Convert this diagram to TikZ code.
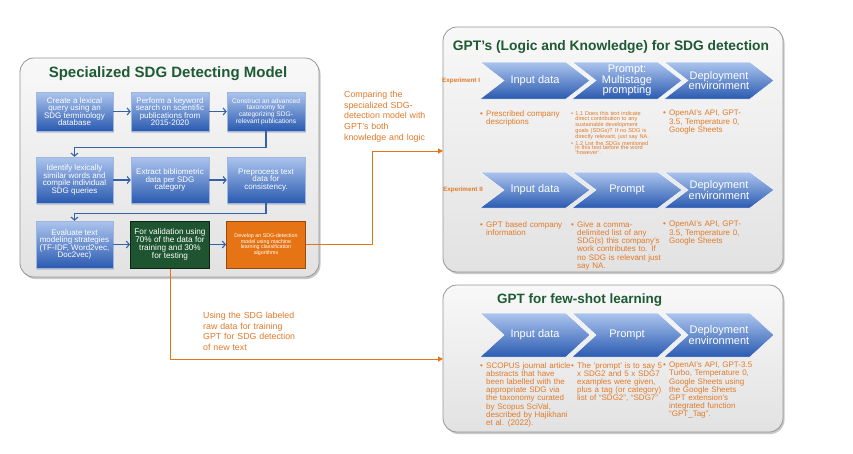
\documentclass[tikz,border=0pt]{standalone}
\usepackage{fontspec}
\setmainfont{Liberation Sans}
\usetikzlibrary{shadows,arrows.meta}
\definecolor{tgreen}{RGB}{30,90,52}
\definecolor{torange}{RGB}{230,116,20}
\definecolor{otext}{RGB}{226,122,40}
\definecolor{bluetop}{RGB}{172,197,238}
\definecolor{bluebot}{RGB}{42,90,176}
\definecolor{conncol}{RGB}{52,98,170}
\definecolor{pantop}{RGB}{248,248,248}
\definecolor{panbot}{RGB}{226,226,226}
\definecolor{panborder}{RGB}{150,150,150}
\definecolor{dgreen}{RGB}{30,84,48}
\newcommand\fs[2]{\fontsize{#1}{#2}\selectfont}
\newcommand\bul[1]{\hangindent=0.75em\hangafter=1\noindent\makebox[0.75em][l]{\textbullet}#1\par}
\newcommand\chevshape[3]{%
  \path[chev] (#1,#2) -- ({#1+86},#2) -- ({#1+110},{(#2+#3)/2}) -- ({#1+86},#3) -- (#1,#3) -- ({#1+24},{(#2+#3)/2}) -- cycle;}
\begin{document}
\begin{tikzpicture}[x=1pt,y=-1pt,
  panel/.style={draw=panborder, line width=0.8pt, rounded corners=14pt, top color=pantop, bottom color=panbot,
    drop shadow={shadow xshift=1.5pt, shadow yshift=-2pt, opacity=0.3, fill=black!70}},
  bbox/.style={rectangle, draw=white!55!bluebot, line width=0.4pt, top color=bluetop, bottom color=bluebot,
    text=white, align=center, inner sep=1pt, font=\fs{8}{7.5},
    drop shadow={shadow xshift=1pt, shadow yshift=-1.5pt, opacity=0.3}},
  conn/.style={draw=conncol, line width=1.1pt, -{Straight Barb[length=3pt,width=7pt]}},
  oconn/.style={draw=torange, line width=1pt, -{Triangle[length=5pt,width=5pt]}},
  otxt/.style={text=otext, align=left, anchor=north west, inner sep=0pt},
  chev/.style={top color=bluetop, bottom color=bluebot, draw=white, line width=0.5pt},
  ctext/.style={text=white, align=center, font=\fs{11}{10.7}, inner sep=0pt},
  exlab/.style={text=otext, font=\bfseries\fs{6.3}{7}, anchor=west, inner sep=0pt},
  ttl/.style={text=tgreen, font=\bfseries, inner sep=0pt}
]
\fill[white] (0,0) rectangle (853,453);
\useasboundingbox (0,0) rectangle (853,453);

% ---------- left panel ----------
\path[panel] (20,58) rectangle (319,277);
\node[ttl, font=\bfseries\fs{15}{16}, anchor=base] (lt) at (168,77) {Specialized SDG Detecting Model};

\node[bbox, minimum width=77pt, minimum height=39pt] (b11) at (74.5,111.5) {Create a lexical\\query using an\\SDG terminology\\database};
\node[bbox, minimum width=78pt, minimum height=39pt] (b12) at (170,111.5) {Perform a keyword\\search on scientific\\publications from\\2015-2020};
\node[bbox, minimum width=78pt, minimum height=39pt, font=\fs{6.6}{6}] (b13) at (266,111.5) {Construct an advanced\\taxonomy for\\categorizing SDG-\\relevant publications};

\node[bbox, minimum width=77pt, minimum height=46pt] (b21) at (74.5,180) {Identify lexically\\similar words and\\compile individual\\SDG queries};
\node[bbox, minimum width=78pt, minimum height=46pt] (b22) at (170,180) {Extract bibliometric\\data per SDG\\category};
\node[bbox, minimum width=78pt, minimum height=46pt] (b23) at (266,180) {Preprocess text\\data for\\consistency.};

\node[bbox, minimum width=77pt, minimum height=47pt] (b31) at (74.5,244.5) {Evaluate text\\modeling strategies\\(TF-IDF, Word2vec,\\Doc2vec)};
\node[rectangle, draw=black!60!dgreen, line width=1pt, fill=dgreen, text=white, align=center, font=\fs{8.2}{7.9},
  minimum width=79pt, minimum height=47pt, inner sep=1pt] (b32) at (170,244.5) {For validation using\\70\% of the data for\\training and 30\%\\for testing};
\node[rectangle, draw=black!35!torange, line width=1pt, fill=torange, text=white, align=center, font=\fs{5.3}{5.6},
  minimum width=79pt, minimum height=47pt, inner sep=1pt] (b33) at (266,244.5) {Develop an SDG-detection\\model using machine\\learning classification\\algorithms};

\draw[conn] (b11) -- (b12);
\draw[conn] (b12) -- (b13);
\draw[conn] (b21) -- (b22);
\draw[conn] (b22) -- (b23);
\draw[conn] (b31) -- (b32);
\draw[conn] (b32) -- (b33);
\draw[conn] (b13.south) -- ++(0,16) -| (b21.north);
\draw[conn] (b23.south) -- ++(0,10) -| (b31.north);

% ---------- right panels ----------
\path[panel] (443,27) rectangle (783,272);
\path[panel] (443,285) rectangle (783,432);
\coordinate (p1in) at (443,151);
\coordinate (p2in) at (443,359);

\node[ttl, font=\bfseries\fs{13.8}{15}, anchor=base] (rt1) at (611,50) {GPT's (Logic and Knowledge) for SDG detection};
\node[ttl, font=\bfseries\fs{13.5}{15}, anchor=base west] (rt2) at (497,303) {GPT for few-shot learning};

% experiment I
\chevshape{480}{62}{99}
\chevshape{572}{62}{99}
\chevshape{664}{62}{99}
\node[ctext] (c11) at (535,80.5) {Input data};
\node[ctext] (c12) at (627,80.5) {Prompt:\\Multistage\\prompting};
\node[ctext] (c13) at (719,80.5) {Deployment\\environment};
\node[exlab] (e1) at (442,80.5) {Experiment I};

\node[otxt, text width=90pt, font=\fs{8}{8.5}] (t11) at (480,110) {\bul{Prescribed company\newline descriptions}};
\node[otxt, text width=84pt, font=\fs{5.6}{4.9}] (t12) at (571,111) {\bul{1.1 Does this text indicate\newline direct contribution to any\newline sustainable development\newline goals (SDGs)? If no SDG is\newline directly relevant, just say NA.}\bul{1.2 List the SDGs mentioned\newline in this text before the word\newline 'however'.}};
\node[otxt, text width=90pt, font=\fs{8}{8.5}] (t13) at (663,110) {\bul{OpenAI's API, GPT-\newline 3.5, Temperature 0,\newline Google Sheets}};

% experiment II
\chevshape{480}{172}{208}
\chevshape{572}{172}{208}
\chevshape{664}{172}{208}
\node[ctext] (c21) at (535,190) {Input data};
\node[ctext] (c22) at (627,190) {Prompt};
\node[ctext] (c23) at (719,190) {Deployment\\environment};
\node[exlab] (e2) at (443,190) {Experiment II};

\node[otxt, text width=90pt, font=\fs{8}{8.3}] (t21) at (480,221) {\bul{GPT based company\newline information}};
\node[otxt, text width=90pt, font=\fs{8}{8.3}] (t22) at (571,221) {\bul{Give a comma-\newline delimited list of any\newline SDG(s) this company's\newline work contributes to. If\newline no SDG is relevant just\newline say NA.}};
\node[otxt, text width=90pt, font=\fs{8}{8.3}] (t23) at (663,221) {\bul{OpenAI's API, GPT-\newline 3.5, Temperature 0,\newline Google Sheets}};

% few-shot
\chevshape{480}{313}{357}
\chevshape{572}{313}{357}
\chevshape{664}{313}{357}
\node[ctext] (c31) at (535,335) {Input data};
\node[ctext] (c32) at (627,335) {Prompt};
\node[ctext] (c33) at (719,335) {Deployment\\environment};

\node[otxt, text width=92pt, font=\fs{8}{8.2}] (t31) at (480,362) {\bul{SCOPUS journal article\newline abstracts that have\newline been labelled with the\newline appropriate SDG via\newline the taxonomy curated\newline by Scopus SciVal,\newline described by Hajikhani\newline et al. (2022).}};
\node[otxt, text width=92pt, font=\fs{8}{8.2}] (t32) at (571,362) {\bul{The 'prompt' is to say 5\newline x SDG2 and 5 x SDG7\newline examples were given,\newline plus a tag (or category)\newline list of ``SDG2'', ``SDG7''}};
\node[otxt, text width=92pt, font=\fs{8}{8.2}] (t33) at (663,362) {\bul{OpenAI's API, GPT-3.5\newline Turbo, Temperature 0,\newline Google Sheets using\newline the Google Sheets\newline GPT extension's\newline integrated function\newline ``GPT\_Tag''.}};

% ---------- orange connectors and annotations ----------
\draw[oconn] (b33.east) -- ++(66,0) |- (p1in);
\draw[oconn] (b32.south) |- (p2in);
\node[otxt, text width=100pt, font=\fs{8.8}{10.7}] (a1) at (344,91) {Comparing the\newline specialized SDG-\newline detection model with\newline GPT's both\newline knowledge and logic};
\node[otxt, text width=110pt, font=\fs{8.8}{10.7}] (a2) at (203,312) {Using the SDG labeled\newline raw data for training\newline GPT for SDG detection\newline of new text};
\end{tikzpicture}
\end{document}
